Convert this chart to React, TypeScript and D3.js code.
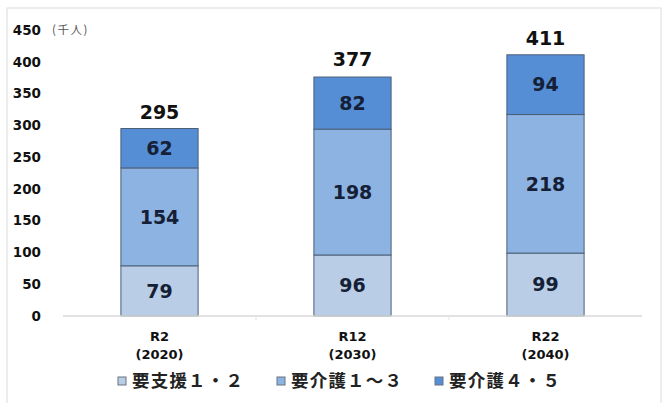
import React, { useMemo } from 'react';
import * as d3 from 'd3';

// data (千人)
const categories = ['R2', 'R12', 'R22'];
const years = ['(2020)', '(2030)', '(2040)'];
const shien12 = [79, 96, 99];
const kaigo13 = [154, 198, 218];
const kaigo45 = [62, 82, 94];
const totals = [295, 377, 411];
const yTicks = [0, 50, 100, 150, 200, 250, 300, 350, 400, 450];
const seriesNames = ['要支援１・２', '要介護１～３', '要介護４・５'];
const seriesColors = ['#b9cde6', '#8db3e2', '#558ed5'];

const W = 665;
const H = 403;
const NUM_FONT = '"DejaVu Sans", Verdana, sans-serif';
const JP_FONT = '"Noto Sans CJK JP", sans-serif';

export default function App() {
    const x = useMemo(
        () => d3.scaleBand<string>().domain(categories).range([63, 642]).paddingInner(0.6).paddingOuter(0.3),
        []
    );
    const y = useMemo(() => d3.scaleLinear().domain([0, 450]).range([316, 30]), []);

    const stacked = useMemo(() => {
        const rows = categories.map((c, i) => ({ cat: c, s0: shien12[i], s1: kaigo13[i], s2: kaigo45[i] }));
        return d3.stack<any>().keys(['s0', 's1', 's2'])(rows);
    }, []);

    const legendX = [118, 277, 435];

    return (
        <svg
            width={W}
            height={H}
            viewBox={`0 0 ${W} ${H}`}
            style={{ position: 'absolute', left: 0, top: 0, background: '#fff' }}
        >
            {/* outer frame */}
            <rect x={7} y={8} width={654} height={420} fill="#fff" stroke="#dcdcdc" strokeWidth={1} />

            {/* y tick labels */}
            {yTicks.map((t) => (
                <text
                    key={t}
                    x={41}
                    y={y(t)}
                    dy="0.35em"
                    textAnchor="end"
                    fontFamily={NUM_FONT}
                    fontWeight={700}
                    fontSize={13.5}
                    fill="#111"
                >
                    {t}
                </text>
            ))}
            <text x={52} y={y(450)} dy="0.35em" fontFamily={JP_FONT} fontSize={11.5} letterSpacing={1.5} fill="#555">
                (千人)
            </text>

            {/* stacked bars */}
            {stacked.map((layer, li) => (
                <g key={layer.key}>
                    {layer.map((d, i) => {
                        const bx = x(categories[i])!;
                        const y0 = y(d[0]);
                        const y1 = y(d[1]);
                        return (
                            <g key={categories[i]}>
                                <rect
                                    x={bx}
                                    y={y1}
                                    width={x.bandwidth()}
                                    height={y0 - y1}
                                    fill={seriesColors[li]}
                                    stroke="#4d5f78"
                                    strokeWidth={1}
                                />
                                <text
                                    x={bx + x.bandwidth() / 2}
                                    y={(y0 + y1) / 2}
                                    dy="0.36em"
                                    textAnchor="middle"
                                    fontFamily={NUM_FONT}
                                    fontWeight={700}
                                    fontSize={19}
                                    fill="#152036"
                                >
                                    {d[1] - d[0]}
                                </text>
                            </g>
                        );
                    })}
                </g>
            ))}

            {/* totals */}
            {categories.map((c, i) => (
                <text
                    key={c}
                    x={x(c)! + x.bandwidth() / 2}
                    y={y(totals[i]) - 10}
                    textAnchor="middle"
                    fontFamily={NUM_FONT}
                    fontWeight={700}
                    fontSize={19}
                    fill="#111"
                >
                    {totals[i]}
                </text>
            ))}

            {/* x axis */}
            <line x1={63} x2={642} y1={y(0)} y2={y(0)} stroke="#d9d9d9" strokeWidth={1.5} />
            {[1, 2].map((k) => {
                const tx = 63 + x.step() * k;
                return <line key={k} x1={tx} x2={tx} y1={y(0)} y2={y(0) + 4} stroke="#e3e3e3" />;
            })}
            {categories.map((c, i) => (
                <g key={c} fontFamily={NUM_FONT} fontWeight={700} fontSize={13} fill="#111" textAnchor="middle">
                    <text x={x(c)! + x.bandwidth() / 2} y={341}>
                        {c}
                    </text>
                    <text x={x(c)! + x.bandwidth() / 2} y={359}>
                        {years[i]}
                    </text>
                </g>
            ))}

            {/* legend */}
            {seriesNames.map((name, i) => (
                <g key={name}>
                    <rect x={legendX[i]} y={377} width={8} height={8} fill={seriesColors[i]} stroke="#6b7280" strokeWidth={1} />
                    <text
                        x={legendX[i] + 14}
                        y={387}
                        fontFamily={JP_FONT}
                        fontWeight={700}
                        fontSize={17.5}
                        letterSpacing={1.2}
                        fill="#222"
                    >
                        {name}
                    </text>
                </g>
            ))}
        </svg>
    );
}
